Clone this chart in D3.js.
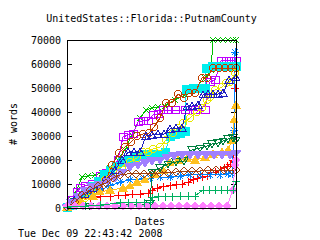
<!DOCTYPE html>
<html>
<head>
<meta charset="utf-8">
<script src="https://cdn.jsdelivr.net/npm/d3@7"></script>
<style>
  body { margin: 0; background: #fff; }
  svg { display: block; font-family: "DejaVu Sans Mono", monospace; font-size: 10px; }
</style>
</head>
<body>
<div id="wrapper"></div>
<script>
// 1. Data (day index, # words)
const chartTitle = "UnitedStates::Florida::PutnamCounty"
const stamp = "Tue Dec 09 22:43:42 2008"
const yTicks = [0, 10000, 20000, 30000, 40000, 50000, 60000, 70000]
const dayRange = [0, 169]

const redWords = [[0,800],[13,3800],[23,4200],[33,4600],[43,4600],[51,5400],[58,5400],[65,5800],[73,5800],[81,6200],[85,7500],[90,8300],[96,8800],[103,9200],[109,9600],[115,10000],[121,10800],[126,11700],[130,12500],[135,12900],[140,13300],[143,14600],[148,15000],[153,15800],[157,16700],[160,17500],[163,18300],[166,20000],[168,50000]]
const greenWords = [[0,400],[5,3300],[10,7500],[15,12900],[21,13300],[28,13800],[35,14600],[43,16700],[51,20000],[58,24200],[65,30400],[73,37500],[79,40800],[85,41700],[91,42100],[98,42500],[108,45000],[118,47100],[128,50000],[138,54200],[144,57500],[146,70000],[151,70000],[156,70000],[161,70000],[166,70000],[169,70000]]
const blueWords = [[0,400],[5,2500],[13,4200],[23,5800],[33,7500],[43,9200],[53,10800],[63,11700],[76,12100],[83,12500],[93,12900],[103,12900],[113,13300],[123,13800],[133,13800],[143,13800],[153,13800],[161,14200],[165,14200],[167,32500],[168,65000]]
const magentaWords = [[0,400],[5,3300],[10,6700],[13,8300],[18,9200],[25,10000],[33,13300],[39,14600],[45,15800],[51,20000],[56,29600],[61,30400],[66,30800],[71,35800],[76,36300],[81,36300],[86,38800],[91,39200],[96,40800],[101,40800],[108,40800],[118,40800],[128,40800],[138,40800],[143,52500],[148,53300],[154,61300],[159,61300],[164,61300],[169,61300]]
const cyanWords = [[0,400],[5,1200],[11,3300],[18,6200],[25,8800],[31,11200],[37,13800],[43,15800],[49,17500],[55,18800],[61,20000],[68,21200],[75,22100],[83,22100],[91,22500],[98,23300],[103,30000],[108,30800],[113,31200],[118,31700],[119,49200],[126,49600],[133,49600],[138,50000],[139,58300],[145,58800],[151,58800],[157,58800],[163,58800],[169,58800]]
const siennaWords = [[0,400],[13,2500],[25,5000],[33,7500],[39,11700],[45,17900],[52,22900],[58,25400],[64,27500],[70,30000],[76,30800],[82,31200],[87,33800],[93,37500],[99,43800],[105,43800],[111,47500],[117,45800],[122,47900],[128,47900],[135,54200],[140,54200],[146,58300],[152,58300],[158,58300],[164,58300],[169,58300]]
const yellowWords = [[0,400],[8,1700],[18,4200],[28,7500],[38,11700],[46,15800],[55,17100],[63,19200],[70,20800],[76,23300],[81,23300],[86,24600],[93,25400],[99,28300],[106,31200],[111,33300],[116,35400],[123,37500],[130,40000],[135,41700],[140,45000],[143,46200],[148,49200],[155,50400],[159,52100],[163,52500],[168,56200]]
const navyWords = [[0,400],[5,2500],[9,4200],[18,5800],[28,8300],[38,11700],[48,15800],[55,20000],[61,23300],[67,23300],[73,23300],[79,30000],[85,30400],[91,30800],[97,30800],[103,32900],[109,33300],[115,33300],[120,42100],[125,42500],[131,42900],[136,47100],[141,47500],[146,47500],[151,47500],[156,47900],[162,53300],[169,54200]]
const orangeWords = [[0,400],[13,2500],[26,5000],[33,6700],[43,7500],[56,8300],[63,9200],[70,10800],[78,11700],[88,13800],[96,15800],[103,18800],[111,20000],[120,20800],[128,20000],[138,21200],[146,22500],[155,23300],[161,24200],[165,28300],[167,36700],[169,42900]]
const darkGreenWords = [[0,400],[23,800],[53,1200],[83,1700],[85,15000],[93,16700],[101,18300],[109,19200],[117,19600],[125,24200],[133,25000],[140,25800],[145,26700],[151,27100],[156,27900],[161,28800],[166,29200],[169,28300]]
const lavenderWords = [[0,400],[5,2100],[11,5000],[18,7500],[25,8800],[33,9600],[41,11200],[48,12500],[55,15000],[63,17100],[71,17900],[78,18800],[85,19600],[93,20000],[100,21200],[107,21700],[115,22100],[123,22100],[131,22100],[139,22100],[147,22100],[155,22100],[163,22100],[169,22900]]
const brownWords = [[0,400],[8,2500],[15,5400],[23,7500],[31,9200],[39,10400],[46,12500],[53,13800],[61,14200],[69,14200],[77,14200],[85,14200],[93,14600],[101,14600],[109,15000],[117,15400],[125,15400],[133,15400],[141,15800],[149,15800],[157,15800],[165,15800],[169,15800]]
const pinkWords = [[0,800],[8,800],[16,800],[24,800],[32,800],[40,800],[48,800],[56,800],[64,800],[72,800],[80,800],[88,800],[96,800],[104,800],[112,800],[120,800],[128,800],[136,800],[144,800],[152,800],[160,800],[166,7500],[168,17900],[169,20000]]
const tealWords = [[0,400],[18,800],[33,1200],[53,2100],[61,2100],[69,2100],[77,2100],[83,2100],[85,4200],[91,4600],[98,4600],[105,4600],[113,5000],[121,5000],[128,5000],[136,7500],[142,7500],[148,7500],[154,7500],[160,7500],[166,7500],[169,11200]]

const seriesList = [
  { data: redWords, color: "#ff0000", marker: "plus" },
  { data: greenWords, color: "#00c000", marker: "cross" },
  { data: blueWords, color: "#0080ff", marker: "star" },
  { data: magentaWords, color: "#c000ff", marker: "square" },
  { data: cyanWords, color: "#00eeee", marker: "squareFilled" },
  { data: siennaWords, color: "#c04000", marker: "circle" },
  { data: yellowWords, color: "#e8e800", marker: "circle" },
  { data: navyWords, color: "#2020c0", marker: "triangle" },
  { data: orangeWords, color: "#ffc020", marker: "triangleFilled" },
  { data: darkGreenWords, color: "#008040", marker: "triangleDown" },
  { data: lavenderWords, color: "#a080ff", marker: "triangleDownFilled" },
  { data: brownWords, color: "#a04010", marker: "diamond" },
  { data: pinkWords, color: "#ff80ff", marker: "diamondFilled" },
  { data: tealWords, color: "#00b060", marker: "plus" },
]

// 2. Dimensions
const dimensions = {
  width: 320,
  height: 240,
  margin: { top: 40, right: 84, bottom: 32, left: 67 },
}
dimensions.boundedWidth = dimensions.width - dimensions.margin.left - dimensions.margin.right
dimensions.boundedHeight = dimensions.height - dimensions.margin.top - dimensions.margin.bottom

// 3. Canvas
const wrapper = d3.select("#wrapper")
  .append("svg")
    .attr("width", dimensions.width)
    .attr("height", dimensions.height)

const bounds = wrapper.append("g")
    .attr("transform", `translate(${dimensions.margin.left},${dimensions.margin.top})`)

// 4. Scales
const xScale = d3.scaleLinear()
  .domain(dayRange)
  .range([0, dimensions.boundedWidth])

const yScale = d3.scaleLinear()
  .domain([0, 70000])
  .range([dimensions.boundedHeight, 0])

// 5. Peripherals
const yAxis = bounds.append("g")
    .call(d3.axisLeft(yScale).tickValues(yTicks).tickSize(-5).tickPadding(6).tickFormat(d3.format("d")))
    .attr("shape-rendering", "crispEdges")
yAxis.select(".domain").remove()
yAxis.selectAll("text").style("font-family", "DejaVu Sans Mono").style("font-size", "10px").attr("fill", "#000")

const yAxisRight = bounds.append("g")
    .attr("transform", `translate(${dimensions.boundedWidth},0)`)
    .call(d3.axisRight(yScale).tickValues(yTicks).tickSize(-5).tickFormat(""))
    .attr("shape-rendering", "crispEdges")
yAxisRight.select(".domain").remove()

// 6. Data
const markerPath = {
  plus: "M-4,0H4M0,-4V4",
  cross: "M-3,-3L3,3M-3,3L3,-3",
  star: "M-4,0H4M0,-4V4M-3,-3L3,3M-3,3L3,-3",
  square: "M-4,-3.5H4V3.5H-4Z",
  squareFilled: "M-4,-4H4V4H-4Z",
  circle: "M3.5,0A3.5,3.5,0,1,1,-3.5,0A3.5,3.5,0,1,1,3.5,0Z",
  triangle: "M0,-4L4,3H-4Z",
  triangleFilled: "M0,-4L4,3H-4Z",
  triangleDown: "M0,4L4,-3H-4Z",
  triangleDownFilled: "M0,4L5,-3H-5Z",
  diamond: "M0,-4L4,0L0,4L-4,0Z",
  diamondFilled: "M0,-4L4,0L0,4L-4,0Z",
}

const lineGenerator = d3.line()
  .x(d => xScale(d[0]))
  .y(d => yScale(d[1]))

const plot = bounds.append("g")
    .attr("shape-rendering", "crispEdges")

seriesList.forEach(s => {
  const g = plot.append("g")
  g.append("path")
      .attr("d", lineGenerator(s.data))
      .attr("fill", "none")
      .attr("stroke", s.color)
      .attr("stroke-width", 1)

  const filled = /Filled/.test(s.marker)
  g.selectAll("path.pt")
    .data(s.data)
    .join("path")
      .attr("class", "pt")
      .attr("transform", d => `translate(${xScale(d[0])},${yScale(d[1])})`)
      .attr("d", markerPath[s.marker])
      .attr("fill", filled ? s.color : "none")
      .attr("stroke", s.color)
      .attr("stroke-width", 1)
})

// frame
bounds.append("rect")
    .attr("width", dimensions.boundedWidth)
    .attr("height", dimensions.boundedHeight)
    .attr("fill", "none")
    .attr("stroke", "#000")
    .attr("shape-rendering", "crispEdges")

// labels
wrapper.append("text")
    .attr("x", dimensions.margin.left + dimensions.boundedWidth / 2)
    .attr("y", 22)
    .attr("text-anchor", "middle")
    .text(chartTitle)

wrapper.append("text")
    .attr("transform", `translate(17,${dimensions.margin.top + dimensions.boundedHeight / 2}) rotate(-90)`)
    .attr("text-anchor", "middle")
    .text("# words")

wrapper.append("text")
    .attr("x", 150)
    .attr("y", 225)
    .attr("text-anchor", "middle")
    .text("Dates")

wrapper.append("text")
    .attr("x", 18)
    .attr("y", 237)
    .text(stamp)
</script>
</body>
</html>
